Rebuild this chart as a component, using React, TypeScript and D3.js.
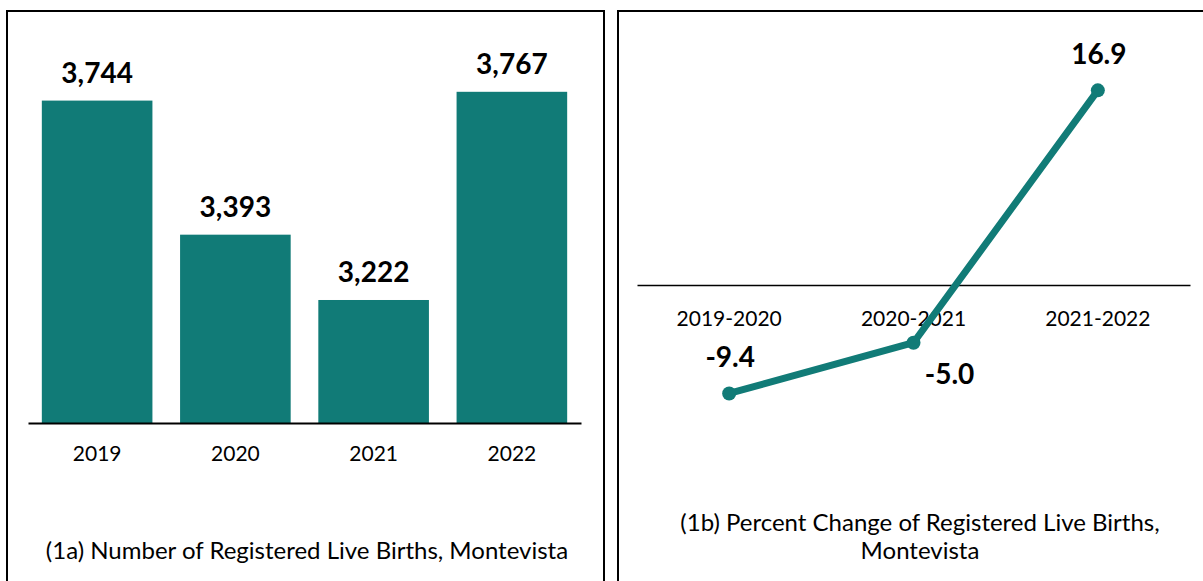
import React, { useEffect, useRef } from 'react';
import * as d3 from 'd3';

// (1a) registered live births
const years = ['2019', '2020', '2021', '2022'];
const births = [3744, 3393, 3222, 3767];

// (1b) percent change
const periods = ['2019-2020', '2020-2021', '2021-2022'];
const pctChange = [-9.4, -5.0, 16.9];
const pctLabelPlacement = ['above', 'belowRight', 'above'];

const TEAL = '#117b77';
const FONT = 'Lato, Carlito, Calibri, sans-serif';

const App: React.FC = () => {
  const svgRef = useRef<SVGSVGElement | null>(null);

  useEffect(() => {
    drawCharts();
  }, []);

  const drawCharts = () => {
    const svg = d3.select(svgRef.current);
    svg.selectAll('*').remove();

    // panel frames
    svg.append('rect').attr('x', 7).attr('y', 11).attr('width', 597).attr('height', 600)
      .attr('fill', 'none').attr('stroke', '#000').attr('stroke-width', 2);
    svg.append('rect').attr('x', 618).attr('y', 11).attr('width', 620).attr('height', 600)
      .attr('fill', 'none').attr('stroke', '#000').attr('stroke-width', 2);

    // ---------- left: bar chart ----------
    const left = svg.append('g');
    const xBar = d3.scaleBand().domain(years).range([28, 581]).paddingInner(0.2).paddingOuter(0.1);
    const yBar = d3.scaleLinear().domain([2900, 3900]).range([423, 41]);

    left.selectAll('.bar')
      .data(years)
      .enter()
      .append('rect')
      .attr('class', 'bar')
      .attr('x', (d) => xBar(d)!)
      .attr('y', (_d, i) => yBar(births[i]))
      .attr('width', xBar.bandwidth())
      .attr('height', (_d, i) => yBar(2900) - yBar(births[i]))
      .attr('fill', TEAL);

    left.selectAll('.bar-label')
      .data(years)
      .enter()
      .append('text')
      .attr('class', 'bar-label')
      .attr('x', (d) => xBar(d)! + xBar.bandwidth() / 2)
      .attr('y', (_d, i) => yBar(births[i]) - 18)
      .attr('text-anchor', 'middle')
      .style('font-family', FONT)
      .style('font-size', '28px')
      .style('font-weight', 'bold')
      .text((_d, i) => d3.format(',')(births[i]));

    const xAxisBar = left.append('g').attr('transform', 'translate(0,423)')
      .call(d3.axisBottom(xBar).tickSize(0).tickPadding(23));
    xAxisBar.select('.domain').attr('stroke', '#000').attr('stroke-width', 2);
    xAxisBar.selectAll('text').style('font-family', FONT).style('font-size', '21px').attr('fill', '#000');

    left.append('text')
      .attr('x', 307).attr('y', 559)
      .attr('text-anchor', 'middle')
      .style('font-family', FONT).style('font-size', '24px')
      .text('(1a) Number of Registered Live Births, Montevista');

    // ---------- right: line chart ----------
    const right = svg.append('g');
    const xLine = d3.scaleBand().domain(periods).range([637, 1190]);
    const yLine = d3.scaleLinear().domain([-15, 20]).range([458, 54.6]);
    const cx = (i: number) => xLine(periods[i])! + xLine.bandwidth() / 2;

    const xAxisLine = right.append('g').attr('transform', `translate(0,${yLine(0)})`)
      .call(d3.axisBottom(xLine).tickSize(0).tickPadding(26));
    xAxisLine.select('.domain').attr('stroke', '#000').attr('stroke-width', 1.5);
    xAxisLine.selectAll('text').style('font-family', FONT).style('font-size', '21px').attr('fill', '#000');

    const line = d3.line<number>()
      .x((_d, i) => cx(i))
      .y((d) => yLine(d));

    right.append('path')
      .datum(pctChange)
      .attr('d', line)
      .attr('fill', 'none')
      .attr('stroke', TEAL)
      .attr('stroke-width', 7)
      .attr('stroke-linejoin', 'round');

    right.selectAll('.dot')
      .data(pctChange)
      .enter()
      .append('circle')
      .attr('class', 'dot')
      .attr('cx', (_d, i) => cx(i))
      .attr('cy', (d) => yLine(d))
      .attr('r', 7)
      .attr('fill', TEAL);

    right.selectAll('.pct-label')
      .data(pctChange)
      .enter()
      .append('text')
      .attr('class', 'pct-label')
      .attr('x', (_d, i) => cx(i) + (pctLabelPlacement[i] === 'belowRight' ? 36 : 1))
      .attr('y', (d, i) => yLine(d) + (pctLabelPlacement[i] === 'belowRight' ? 41 : -26))
      .attr('text-anchor', 'middle')
      .style('font-family', FONT)
      .style('font-size', '28px')
      .style('font-weight', 'bold')
      .text((d) => d.toFixed(1));

    const caption = right.append('text')
      .attr('x', 920).attr('y', 531)
      .attr('text-anchor', 'middle')
      .style('font-family', FONT).style('font-size', '24px');
    caption.append('tspan').attr('x', 920).text('(1b) Percent Change of Registered Live Births,');
    caption.append('tspan').attr('x', 920).attr('dy', 28).text('Montevista');
  };

  return (
    <svg
      ref={svgRef}
      width={1203}
      height={581}
      style={{ position: 'absolute', left: 0, top: 0, background: '#fff' }}
    />
  );
};

export default App;
